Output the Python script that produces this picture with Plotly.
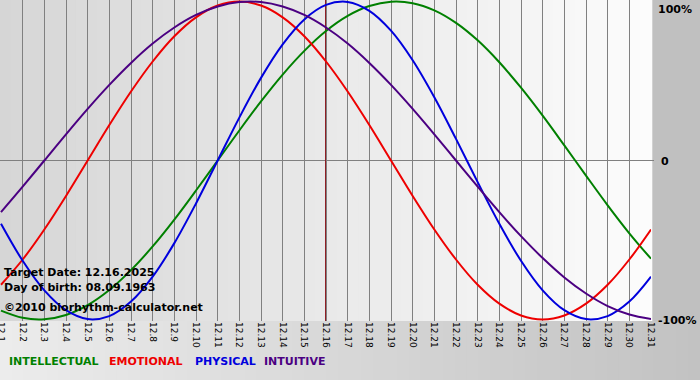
import plotly.graph_objects as go

# ---- data ----
days = list(range(1, 32))
tick_labels = ["12.1", "12.2", "12.3", "12.4", "12.5", "12.6", "12.7", "12.8", "12.9", "12.10",
               "12.11", "12.12", "12.13", "12.14", "12.15", "12.16", "12.17", "12.18", "12.19", "12.20",
               "12.21", "12.22", "12.23", "12.24", "12.25", "12.26", "12.27", "12.28", "12.29", "12.30", "12.31"]

intellectual = [-0.945, -0.990, -0.999, -0.972, -0.910, -0.815, -0.690, -0.541, -0.372, -0.189,
                0.000, 0.189, 0.372, 0.541, 0.690, 0.815, 0.910, 0.972, 0.999, 0.990,
                0.945, 0.866, 0.756, 0.618, 0.458, 0.282, 0.095, -0.095, -0.282, -0.458, -0.618]
emotional = [-0.782, -0.623, -0.434, -0.223, 0.000, 0.223, 0.434, 0.623, 0.782, 0.901,
             0.975, 1.000, 0.975, 0.901, 0.782, 0.623, 0.434, 0.223, 0.000, -0.223,
             -0.434, -0.623, -0.782, -0.901, -0.975, -1.000, -0.975, -0.901, -0.782, -0.623, -0.434]
physical = [-0.398, -0.631, -0.817, -0.942, -0.998, -0.979, -0.888, -0.731, -0.520, -0.270,
            0.000, 0.270, 0.520, 0.731, 0.888, 0.979, 0.998, 0.942, 0.817, 0.631,
            0.398, 0.136, -0.136, -0.398, -0.631, -0.817, -0.942, -0.998, -0.979, -0.888, -0.731]
intuitive = [-0.325, -0.165, 0.000, 0.165, 0.325, 0.476, 0.614, 0.736, 0.837, 0.916,
             0.969, 0.997, 0.997, 0.969, 0.916, 0.837, 0.736, 0.614, 0.476, 0.325,
             0.165, 0.000, -0.165, -0.325, -0.476, -0.614, -0.736, -0.837, -0.916, -0.969, -0.997]

series_names = ["INTELLECTUAL", "EMOTIONAL", "PHYSICAL", "INTUITIVE"]
series_values = [intellectual, emotional, physical, intuitive]
series_colors = ["#008000", "#ee0000", "#0000dd", "#4b0082"]
legend_px = [7, 107, 193, 262]

target_day = 16
y_tick_values = [1, 0, -1]
y_tick_labels = ["100%", "0", "-100%"]
info_lines = ["Target Date: 12.16.2025", "Day of birth: 08.09.1963", "©2010 biorhythm-calculator.net"]

# ---- layout geometry ----
W, H = 700, 380
ML, MR, MT, MB = 0, 49, 0, 59
PW, PH = W - ML - MR, H - MT - MB
FONT = "DejaVu Sans"

fig = go.Figure()
for name, vals, col in zip(series_names, series_values, series_colors):
    fig.add_trace(go.Scatter(x=days, y=vals, mode="lines", name=name,
                             line=dict(color=col, width=2, shape="spline"),
                             hoverinfo="skip"))

shapes = []


def mix(c1, c2, t):
    return "rgb(%d,%d,%d)" % tuple(round(a + (b - a) * t) for a, b in zip(c1, c2))


# plot area gradient (grey -> white)
N = 60
for i in range(N):
    t = (i + 0.5) / N
    shapes.append(dict(type="rect", xref="paper", yref="paper", x0=i / N, x1=(i + 1) / N + 0.002,
                       y0=0, y1=1, fillcolor=mix((214, 214, 214), (252, 252, 252), t),
                       line=dict(width=0), layer="below"))
# bottom strip gradient
yb = -MB / PH
xr = (W - ML) / PW
for i in range(N):
    t = (i + 0.5) / N
    shapes.append(dict(type="rect", xref="paper", yref="paper", x0=xr * i / N, x1=xr * (i + 1) / N + 0.003,
                       y0=yb, y1=0, fillcolor=mix((236, 236, 236), (194, 194, 194), t),
                       line=dict(width=0), layer="below"))
# zero line
shapes.append(dict(type="line", xref="paper", yref="y", x0=0, x1=1 + 3 / PW, y0=0, y1=0,
                   line=dict(color="#808080", width=1), layer="below"))
# target day line
shapes.append(dict(type="line", xref="x", yref="paper", x0=target_day, x1=target_day, y0=0, y1=1,
                   line=dict(color="#8e1e24", width=2), layer="between"))

annotations = []
for v, lab in zip(y_tick_values, y_tick_labels):
    annotations.append(dict(xref="paper", yref="y", x=1, y=v, xanchor="left",
                            yanchor="top" if v == 1 else "middle", xshift=5 if lab != "0" else 8,
                            yshift=1 if v == 1 else -1, text="<b>%s</b>" % lab, showarrow=False,
                            font=dict(family=FONT, size=11, color="#000000")))
info_y = [272, 287, 307]
for txt, py in zip(info_lines, info_y):
    annotations.append(dict(xref="paper", yref="paper", x=2 / PW, y=1 - (py - MT) / PH,
                            xanchor="left", yanchor="middle", text="<b>%s</b>" % txt, showarrow=False,
                            font=dict(family=FONT, size=11, color="#000000")))
for name, col, px in zip(series_names, series_colors, legend_px):
    annotations.append(dict(xref="paper", yref="paper", x=(px - ML) / PW, y=1 - (361 - MT) / PH,
                            xanchor="left", yanchor="middle", text="<b>%s</b>" % name, showarrow=False,
                            font=dict(family=FONT, size=11, color=col)))

fig.update_layout(
    width=W, height=H,
    margin=dict(l=ML, r=MR, t=MT, b=MB, pad=0, autoexpand=False),
    paper_bgcolor="#c0c0c0", plot_bgcolor="#fafafa",
    showlegend=False,
    shapes=shapes, annotations=annotations,
    xaxis=dict(range=[1 - 1 / 21.67, 31], tickmode="array", tickvals=days, ticktext=tick_labels,
               tickangle=90, showgrid=True, gridcolor="#808080", gridwidth=1, zeroline=False,
               showline=False, ticks="", tickfont=dict(family=FONT, size=9, color="#000000"),
               ticklabeloverflow="allow", automargin=False, fixedrange=True),
    yaxis=dict(range=[-1.01, 1.01], showgrid=False, zeroline=False, showticklabels=False,
               showline=False, ticks="", automargin=False, fixedrange=True),
)

fig.write_html("out.html", config={"displayModeBar": False},
               post_script="document.body.style.margin='0';document.body.style.overflow='hidden';")
